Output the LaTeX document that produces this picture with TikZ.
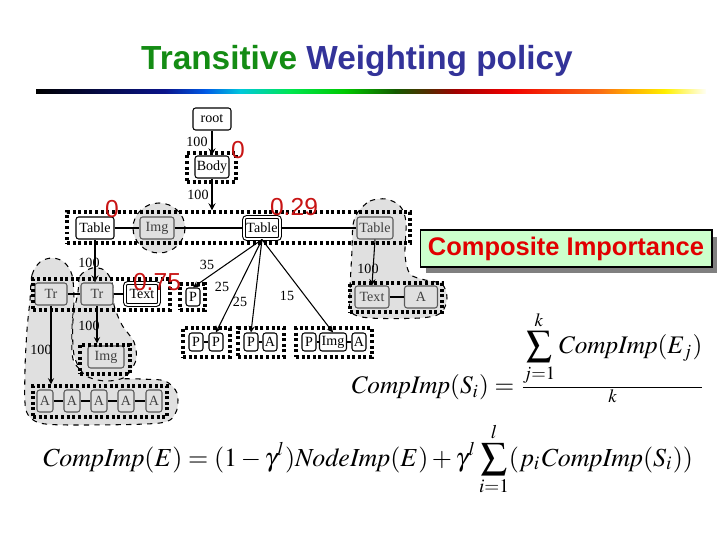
\documentclass[tikz,border=0pt]{standalone}
\usepackage{mathptmx}
\usepackage{fontspec}
\setmainfont{Liberation Serif}
\newfontfamily\arialfont{Liberation Sans}
\usepackage{graphicx}
\usetikzlibrary{fit,arrows}
\definecolor{ttlgreen}{RGB}{20,140,20}
\definecolor{ttlblue}{RGB}{51,51,153}
\definecolor{numred}{RGB}{200,20,20}
\definecolor{ciered}{RGB}{225,0,0}
\definecolor{ciefill}{RGB}{204,255,204}
\definecolor{cieshadow}{RGB}{128,128,128}
\definecolor{blobgray}{RGB}{224,224,224}
% colours of the rule under the title
\definecolor{gA}{RGB}{0,0,0}
\definecolor{gB}{RGB}{10,20,140}
\definecolor{gC}{RGB}{0,90,230}
\definecolor{gD}{RGB}{0,200,220}
\definecolor{gE}{RGB}{0,230,80}
\definecolor{gF}{RGB}{0,200,0}
\definecolor{gG}{RGB}{20,90,0}
\definecolor{gH}{RGB}{90,40,0}
\definecolor{gI}{RGB}{160,0,0}
\definecolor{gJ}{RGB}{240,0,0}
\definecolor{gK}{RGB}{250,110,20}
\definecolor{gL}{RGB}{255,175,0}
\definecolor{gM}{RGB}{255,240,0}
\definecolor{gN}{RGB}{255,255,245}
\tikzset{
  elem/.style={draw,rounded corners=1.5pt,fill=white,inner sep=1pt,
    font=\fontsize{8}{9}\selectfont,minimum width=0.28cm,minimum height=0.36cm},
  tall/.style={minimum height=0.44cm},
  shd/.style={fill=blobgray,draw=black!65,text=black!75},
  dbl/.style={double,double distance=0.9pt},
  grp/.style={draw,dash pattern=on 1.7pt off 1.5pt,line width=1.8pt,inner sep=0pt},
  blob/.style={draw,dashed,fill=blobgray},
  wt/.style={font=\fontsize{8}{9}\selectfont},
  rnum/.style={text=numred,font=\arialfont\fontsize{14}{14}\selectfont},
}

\begin{document}
\begin{tikzpicture}[x=0.02cm,y=-0.02cm,>=stealth,line width=0.6pt]
\useasboundingbox (0,0) rectangle (720,540);

% title and rule
\node[anchor=base,font=\arialfont\bfseries\fontsize{19}{19}\selectfont] (ttl) at (357,70)
  {\textcolor{ttlgreen}{Transitive} \textcolor{ttlblue}{Weighting policy}};
\foreach \xa/\xb/\ca/\cb in {36/165/gA/gB,165/205/gB/gC,205/240/gC/gD,240/290/gD/gE,
  290/345/gE/gF,345/395/gF/gG,395/430/gG/gH,430/455/gH/gI,455/510/gI/gJ,510/600/gJ/gK,
  600/630/gK/gL,630/665/gL/gM,665/705/gM/gN}
  \shade[left color=\ca,right color=\cb] (\xa,90) rectangle (\xb+1,94);

% shaded regions
\draw[blob] plot[smooth cycle] coordinates {(30,300) (32,275) (40,262) (52,258) (64,262)
  (72,275) (74,300) (72,330) (74,362) (95,377) (140,379) (165,381) (177,393) (176,412)
  (160,423) (80,425) (40,423) (26,410) (25,370) (27,330)};
\draw[blob] plot[smooth cycle] coordinates {(78,292) (80,276) (92,268) (104,270) (112,282)
  (114,305) (122,325) (134,342) (136,360) (125,377) (105,381) (85,375) (74,355) (73,320)};
\draw[blob] (159,228) ellipse (26 and 25);
\draw[blob] plot[smooth cycle] coordinates {(358,212) (370,201) (386,199) (400,206) (406,222)
  (405,255) (410,274) (425,280) (442,284) (447,298) (441,313) (420,318) (370,318) (351,312)
  (350,290) (352,250) (353,225)};

% elements
\node[elem,tall,minimum width=0.76cm] (root) at (212,119) {root};
\node[elem,tall,minimum width=0.64cm] (body) at (212,167) {Body};
\node[elem,tall,minimum width=0.76cm] (tabL) at (95,228) {Table};
\node[elem,tall,shd,minimum width=0.68cm] (imgT) at (157,228) {Img};
\node[elem,tall,dbl,minimum width=0.72cm] (tabC) at (262,228) {Table};
\node[elem,tall,shd,minimum width=0.72cm] (tabR) at (375,228) {Table};
\node[elem,tall,shd,minimum width=0.64cm] (tr1) at (51,294) {Tr};
\node[elem,tall,shd,minimum width=0.64cm] (tr2) at (97,294) {Tr};
\node[elem,tall,dbl,minimum width=0.68cm] (txtL) at (142,294) {Text};
\node[elem,tall,shd,minimum width=0.72cm] (imgL) at (106,357) {Img};
\foreach \i/\x in {1/45,2/72,3/99,4/126,5/154}
  \node[elem,tall,shd,minimum width=0.32cm] (a\i) at (\x,401) {A};
\node[elem] (pS) at (193,297) {P};
\node[elem] (pP1) at (196,342) {P};
\node[elem] (pP2) at (216,342) {P};
\node[elem] (pA1) at (251,342) {P};
\node[elem] (pA2) at (270,342) {A};
\node[elem] (pI1) at (309,342) {P};
\node[elem,minimum width=0.54cm] (pI2) at (333,342) {Img};
\node[elem] (pI3) at (359,342) {A};
\node[elem,tall,shd,minimum width=0.68cm] (txtR) at (372,297) {Text};
\node[elem,tall,shd,minimum width=0.66cm] (aR) at (421,297) {A};

% dotted groups
\node[grp,fit={(187,153) (236,182)}] (grpB) {};
\node[grp,fit={(67,212) (410,243)}] (grpT) {};
\node[grp,fit={(33,279) (170,310)}] (grpTr) {};
\node[grp,fit={(80,345) (130,374)}] (grpIL) {};
\node[grp,fit={(33,386) (167,417)}] (grpA) {};
\node[grp,fit={(180,284) (205,310)}] (grpS) {};
\node[grp,fit={(183,328) (230,357)}] (grpPP) {};
\node[grp,fit={(238,328) (284,357)}] (grpPA) {};
\node[grp,fit={(296,328) (372,357)}] (grpPI) {};
\node[grp,fit={(350,283) (442,312)}] (grpTR) {};

% connectors
\draw[->,line width=0.8pt] (root) -- (body);
\draw[->,line width=0.8pt] (body.south) -- (body.south |- grpT.north);
\draw (tabL) -- (imgT) -- (tabC) -- (tabR);
\draw[->,line width=0.8pt] (tabL.south) -- (tabL.south |- tr2.north);
\draw (tr1) -- (tr2) -- (txtL);
\draw[->] (tr2.south) -- (tr2.south |- grpIL.north);
\draw[->] (tr1.south) -- (tr1.south |- grpA.north);
\draw (a1) -- (a2) -- (a3) -- (a4) -- (a5);
\draw[->] (tabC.south) -- (pS.north);
\draw[->] (tabC.south) -- (pP2.north);
\draw[->] (tabC.south) -- (pA1.north);
\draw[->] (tabC.south) -- (pI2.north);
\draw (pP1) -- (pP2);
\draw (pA1) -- (pA2);
\draw (pI1) -- (pI2) -- (pI3);
\draw[->] (tabR.south) -- (txtR.north);
\draw (txtR) -- (aR);

% weights
\node[wt] (w1) at (197,142) {100};
\node[wt] (w2) at (198,195) {100};
\node[wt] (w3) at (89,263) {100};
\node[wt] (w4) at (89,326) {100};
\node[wt] (w5) at (41,350) {100};
\node[wt] (w6) at (207,265) {35};
\node[wt] (w7) at (222,287) {25};
\node[wt] (w8) at (240,302) {25};
\node[wt] (w9) at (287,296) {15};
\node[wt] (w10) at (368,269) {100};

% importance values
\node[rnum] (v1) at (238,150) {0};
\node[rnum] (v2) at (112,209) {0};
\node[rnum] (v3) at (294,207) {0.29};
\node[rnum] (v4) at (157,282) {0.75};

% composite importance
\fill[cieshadow] (426,237) rectangle (717,273);
\node[draw,fill=ciefill,minimum width=5.84cm,minimum height=0.74cm,inner sep=0pt,
  text=ciered,font=\arialfont\bfseries\fontsize{14.5}{14.5}\selectfont] (cie) at (566,248.5)
  {Composite Importance};

% formulas
\node[anchor=west,inner sep=0pt] (fS) at (350,357) {\resizebox{7.1cm}{!}{$\mathit{CompImp}(S_i)=
  \frac{\displaystyle\sum_{j=1}^{k}\mathit{CompImp}(E_j)}{k}$}};
\node[inner sep=0pt] (fE) at (367.5,459) {\resizebox{13.02cm}{!}{$\displaystyle
  \mathit{CompImp}(E)=(1-\gamma^{l})\mathit{NodeImp}(E)+\gamma^{l}\sum_{i=1}^{l}
  (p_i\mathit{CompImp}(S_i))$}};
\end{tikzpicture}
\end{document}
